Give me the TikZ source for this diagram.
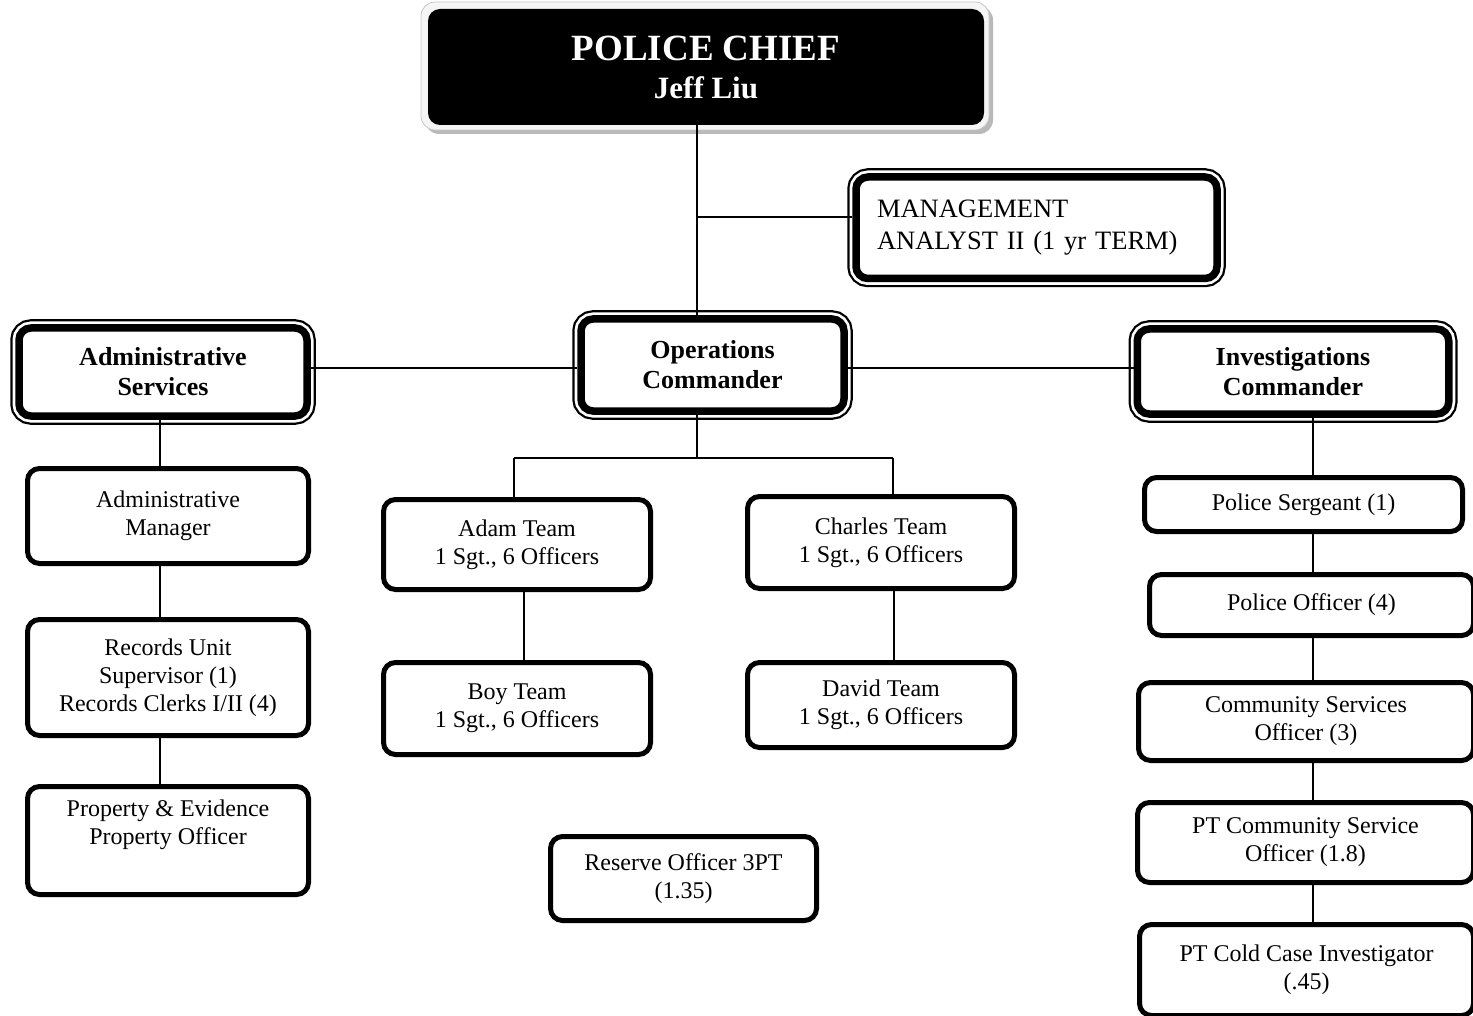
\documentclass[tikz,border=0pt]{standalone}
\usepackage{fontspec}
\setmainfont{Liberation Serif}
\begin{document}
\begin{tikzpicture}[x=1pt,y=-1pt,
  box/.style={draw, line width=5pt, rounded corners=12pt, fill=white,
    align=center, inner sep=0pt, font=\fontsize{24}{28}\selectfont},
  headbox/.style={draw, line width=7.5pt, rounded corners=12pt, fill=white,
    align=center, inner sep=0pt, font=\fontsize{26}{30}\selectfont\bfseries,
    preaction={draw, line width=17.5pt},
    preaction={draw=white, line width=13pt}},
  link/.style={line width=1.8pt}]
\useasboundingbox (0,0) rectangle (1473,1016);

% chief box with bevelled frame
\fill[gray!55, rounded corners=14pt] (425,6) rectangle (993,134);
\filldraw[fill=gray!8, draw=gray!45, line width=0.8pt, rounded corners=14pt] (421,2) rectangle (989,130);
\node[fill=black, rounded corners=12pt, minimum width=556pt, minimum height=116pt,
  inner sep=0pt, text=white, align=center, font=\fontsize{31}{38}\selectfont\bfseries]
  (chief) at (706,67) {{\fontsize{37}{38}\selectfont POLICE CHIEF}\\Jeff Liu};

% second level
\node[headbox, font=\fontsize{26.5}{32}\selectfont, align=left, text width=319pt,
  minimum width=361pt, minimum height=101.5pt] (analyst) at (1036.5,227.75)
  {MANAGEMENT\\ANALYST II (1 yr TERM)};
\node[headbox, minimum width=288pt, minimum height=88pt] (admsvc) at (163,372) {Administrative\\Services};
\node[headbox, minimum width=263pt, minimum height=92pt] (ops) at (712.5,365) {Operations\\Commander};
\node[headbox, minimum width=311.5pt, minimum height=85pt] (inv) at (1293,371.5) {Investigations\\Commander};

% administrative column
\node[box, minimum width=281pt, minimum height=95pt] (admmgr) at (168,516) {Administrative\\Manager};
\node[box, minimum width=281pt, minimum height=116pt] (records) at (168,677.5) {Records Unit\\Supervisor (1)\\Records Clerks I/II (4)};
\node[box, minimum width=281pt, minimum height=108pt] (property) at (168,840.5) {Property \& Evidence\\Property Officer\\\strut};

% operations teams
\node[box, minimum width=267pt, minimum height=90pt] (adam) at (517,544.5) {Adam Team\\1 Sgt., 6 Officers};
\node[box, minimum width=267pt, minimum height=92pt] (boy) at (517,708.5) {Boy Team\\1 Sgt., 6 Officers};
\node[box, minimum width=267pt, minimum height=92pt] (charles) at (881,542.5) {Charles Team\\1 Sgt., 6 Officers};
\node[box, minimum width=267pt, minimum height=85pt] (david) at (881,705) {David Team\\1 Sgt., 6 Officers};
\node[box, minimum width=266pt, minimum height=84pt] (reserve) at (683.5,878.5) {Reserve Officer 3PT\\(1.35)};

% investigations column
\node[box, minimum width=318pt, minimum height=54pt] (sergeant) at (1303.5,504.5) {Police Sergeant (1)};
\node[box, minimum width=324pt, minimum height=61pt] (officer) at (1311.5,605) {Police Officer (4)};
\node[box, minimum width=335pt, minimum height=78pt] (cso) at (1306,721.5) {Community Services\\Officer (3)};
\node[box, minimum width=336pt, minimum height=80pt] (ptcso) at (1305.5,842.5) {PT Community Service\\Officer (1.8)};
\node[box, minimum width=334pt, minimum height=91pt] (cold) at (1306.5,970) {PT Cold Case Investigator\\(.45)};

% connector guides
\coordinate (trunk) at (697,0);
\coordinate (abar) at (0,217);
\coordinate (hbar) at (0,368);
\coordinate (bus) at (0,458);
\coordinate (busL) at (514,458);
\coordinate (busR) at (893,458);
\coordinate (colB) at (524,0);
\coordinate (colD) at (894,0);
\coordinate (colA) at (160,0);
\coordinate (colI) at (1313,0);

% connectors
\draw[link] (chief.south -| trunk) -- (ops.north -| trunk);
\draw[link] (analyst.west |- abar) -- (trunk |- abar);
\draw[link] (admsvc.east |- hbar) -- (ops.west |- hbar);
\draw[link] (ops.east |- hbar) -- (inv.west |- hbar);
\draw[link] (ops.south -| trunk) -- (trunk |- bus);
\draw[link] (busL) -- (busR);
\draw[link] (busL) -- (busL |- adam.north);
\draw[link] (busR) -- (busR |- charles.north);
\draw[link] (adam.south -| colB) -- (boy.north -| colB);
\draw[link] (charles.south -| colD) -- (david.north -| colD);
\draw[link] (admsvc.south -| colA) -- (admmgr.north -| colA);
\draw[link] (admmgr.south -| colA) -- (records.north -| colA);
\draw[link] (records.south -| colA) -- (property.north -| colA);
\draw[link] (inv.south -| colI) -- (sergeant.north -| colI);
\draw[link] (sergeant.south -| colI) -- (officer.north -| colI);
\draw[link] (officer.south -| colI) -- (cso.north -| colI);
\draw[link] (cso.south -| colI) -- (ptcso.north -| colI);
\draw[link] (ptcso.south -| colI) -- (cold.north -| colI);
\end{tikzpicture}
\end{document}
